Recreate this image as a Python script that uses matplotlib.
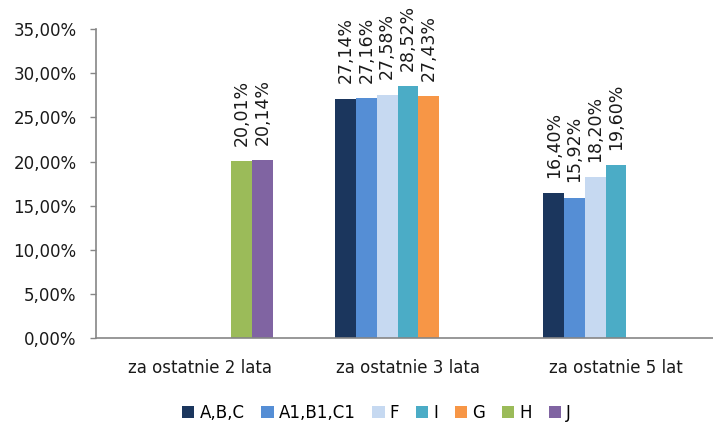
import matplotlib.pyplot as plt
import numpy as np

plt.rcParams['font.family'] = ['DejaVu Sans']

# data
categories = ['za ostatnie 2 lata', 'za ostatnie 3 lata', 'za ostatnie 5 lat']
series = ['A,B,C', 'A1,B1,C1', 'F', 'I', 'G', 'H', 'J']
values = {
    'A,B,C':    [np.nan, 27.14, 16.40],
    'A1,B1,C1': [np.nan, 27.16, 15.92],
    'F':        [np.nan, 27.58, 18.20],
    'I':        [np.nan, 28.52, 19.60],
    'G':        [np.nan, 27.43, np.nan],
    'H':        [20.01, np.nan, np.nan],
    'J':        [20.14, np.nan, np.nan],
}
colors = ['#1B365D', '#558ED5', '#C6D9F1', '#4BACC6', '#F79646', '#9BBB59', '#8064A2']

fig = plt.figure(figsize=(7.13, 4.23), dpi=100)
ax = fig.add_axes([0.1346, 0.201, 0.8654, 0.730])

x = np.arange(len(categories))
w = 0.1
for i, (name, col) in enumerate(zip(series, colors)):
    vals = np.array(values[name], dtype=float)
    pos = x + (i - 3) * w
    ax.bar(pos, vals, width=w, color=col, label=name, linewidth=0)
    for p, v in zip(pos, vals):
        if np.isnan(v):
            continue
        lbl = f'{v:.2f}'.replace('.', ',') + '%'
        ax.annotate(lbl, (p, v), xytext=(0, 11), textcoords='offset points',
                    rotation=90, ha='center', va='bottom', fontsize=12.5,
                    color='#1a1a1a')

ax.set_xlim(-0.5, 2.466)
ax.set_ylim(0, 35)
ax.set_yticks(np.arange(0, 36, 5))
ax.set_yticklabels([f'{t:.2f}'.replace('.', ',') + '%' for t in np.arange(0, 36, 5)])
ax.set_xticks(x)
ax.set_xticklabels(categories)
ax.tick_params(axis='x', length=0, pad=15, labelsize=12, labelcolor='#1a1a1a')
ax.tick_params(axis='y', length=4, width=1, color='#868686', pad=10,
               labelsize=12, labelcolor='#1a1a1a')

for s in ['top', 'right']:
    ax.spines[s].set_visible(False)
for s in ['left', 'bottom']:
    ax.spines[s].set_color('#868686')
    ax.spines[s].set_linewidth(1.2)

fig.legend(loc='center', bbox_to_anchor=(0.528, 0.024), ncol=7, frameon=False,
           fontsize=12, handlelength=0.75, handleheight=0.75, handletextpad=0.3,
           columnspacing=1.0, borderaxespad=0)

plt.savefig('out.png', dpi=100)
